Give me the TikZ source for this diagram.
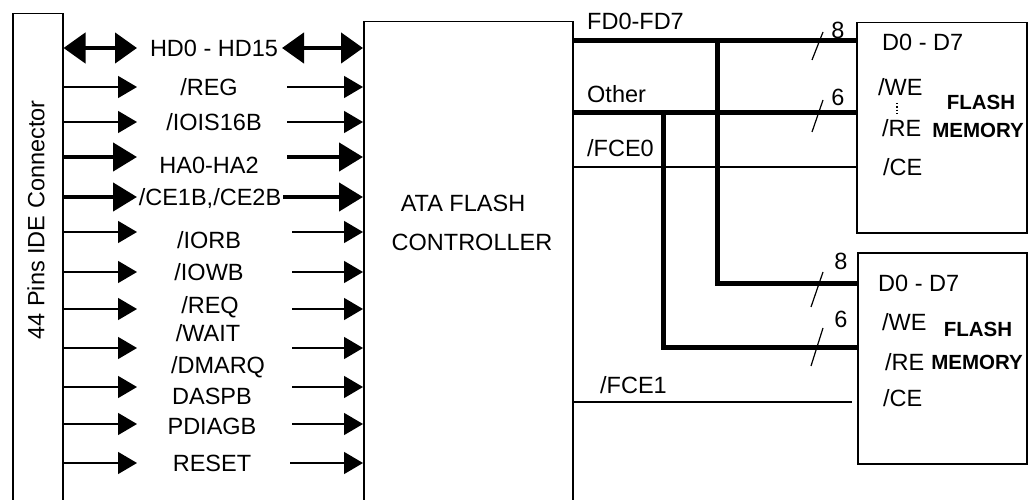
\documentclass[tikz,border=0pt]{standalone}
\usepackage{fontspec}
\setmainfont{Liberation Sans}
\usetikzlibrary{arrows.meta}

\begin{document}
\begin{tikzpicture}[x=1pt, y=-1pt,
    box/.style={draw, line width=1.5pt, inner sep=0pt, anchor=north west},
    lbl/.style={inner sep=0pt, font=\fontsize{23.5}{27}\selectfont,
        text height=16.8pt, text depth=0pt},
    boldlbl/.style={lbl, font=\fontsize{20.5}{24}\selectfont\bfseries,
        text height=14.7pt},
    sig/.style={line width=1.5pt, -{Triangle[length=19pt,width=22pt]}},
    bus/.style={line width=4.5pt, -{Triangle[length=24pt,width=28pt]}},
    dbus/.style={line width=4.5pt,
        {Triangle[length=22pt,width=30pt]}-{Triangle[length=22pt,width=30pt]}},
    wire/.style={line width=1.5pt},
    fbus/.style={line width=5pt},
    tick/.style={line width=1.2pt}
]
    \fill[white] (0,0) rectangle (1028,500);
    \useasboundingbox (0,0) rectangle (1028,500);

    % boxes
    \node[box, minimum width=50pt, minimum height=520pt] (conn) at (12,13) {};
    \node[box, minimum width=209pt, minimum height=520pt] (ctrl) at (363,21) {};
    \node[box, minimum width=170pt, minimum height=210pt] (flashA) at (856,22) {};
    \node[box, minimum width=169pt, minimum height=211pt] (flashB) at (857,252) {};

    \node[lbl, rotate=90] (connlbl) at (36,220) {44 Pins IDE Connector};
    \node[lbl] (ctrllblA) at (463,203) {ATA FLASH};
    \node[lbl] (ctrllblB) at (472,242) {CONTROLLER};

    % host side signals
    \foreach \y/\kind/\xr in {48/dbus/282, 87/sig/287, 122/sig/287, 157/bus/287,
        197/bus/283, 232/sig/292, 272/sig/292, 309/sig/292, 348/sig/292,
        387/sig/292, 424/sig/292, 463/sig/290} {
        \draw[\kind] (conn.east |- 0,\y) -- (137,\y);
        \draw[\kind] (\xr,\y) -- (ctrl.west |- 0,\y);
    }
    \node[lbl] (hdlbl) at (214,48) {HD0 - HD15};
    \node[lbl] (reglbl) at (209,87) {/REG};
    \node[lbl] (ioislbl) at (214,122) {/IOIS16B};
    \node[lbl] (halbl) at (209,165) {HA0-HA2};
    \node[lbl] (celbl) at (210,197) {/CE1B,/CE2B};
    \node[lbl] (iorlbl) at (209,240) {/IORB};
    \node[lbl] (iowlbl) at (209,272) {/IOWB};
    \node[lbl] (reqlbl) at (210,305) {/REQ};
    \node[lbl] (waitlbl) at (208,333) {/WAIT};
    \node[lbl] (dmalbl) at (218,365) {/DMARQ};
    \node[lbl] (dasplbl) at (212,396) {DASPB};
    \node[lbl] (pdiaglbl) at (212,426) {PDIAGB};
    \node[lbl] (resetlbl) at (212,463) {RESET};

    % flash side
    \coordinate (dsplit) at (717,41);
    \coordinate (osplit) at (663,113);
    \draw[fbus] (ctrl.east |- dsplit) -- (flashA.west |- dsplit);
    \draw[fbus] (dsplit) -- (717,283) -- (flashB.west |- 0,283);
    \draw[fbus] (ctrl.east |- osplit) -- (flashA.west |- osplit);
    \draw[fbus] (osplit) -- (663,347) -- (flashB.west |- 0,347);
    \draw[wire] (ctrl.east |- 0,167) -- (flashA.west |- 0,167);
    \draw[wire, shorten >=5pt] (ctrl.east |- 0,402) -- (flashB.west |- 0,402);

    \node[lbl, anchor=west] (fdlbl) at (587,21) {FD0-FD7};
    \node[lbl, anchor=west] (otherlbl) at (587,94) {Other};
    \node[lbl, anchor=west] (fceAlbl) at (587,148) {/FCE0};
    \node[lbl, anchor=west] (fceBlbl) at (600,385) {/FCE1};

    % bus widths
    \draw[tick] (812,60) -- (823,32);
    \draw[tick] (812,132) -- (823,100);
    \draw[tick] (811,307) -- (823,272);
    \draw[tick] (811,366) -- (823,328);
    \node[lbl] (wA) at (838,30) {8};
    \node[lbl] (wB) at (838,97) {6};
    \node[lbl] (wC) at (841,261) {8};
    \node[lbl] (wD) at (841,319) {6};

    % flash memory pins
    \node[lbl, anchor=west] (dA) at (882,42) {D0 - D7};
    \node[lbl, anchor=west] (weA) at (878,87) {/WE};
    \draw[line width=1.3pt, dash pattern=on 1.3pt off 2pt] (897,103) -- (897,114);
    \node[lbl, anchor=west] (reA) at (882,128) {/RE};
    \node[lbl, anchor=west] (ceA) at (883,167) {/CE};
    \node[boldlbl] (flA) at (981,102) {FLASH};
    \node[boldlbl] (memA) at (978,130) {MEMORY};

    \node[lbl, anchor=west] (dB) at (878,283) {D0 - D7};
    \node[lbl, anchor=west] (weB) at (882,322) {/WE};
    \node[lbl, anchor=west] (reB) at (885,362) {/RE};
    \node[lbl, anchor=west] (ceB) at (883,398) {/CE};
    \node[boldlbl] (flB) at (978,329) {FLASH};
    \node[boldlbl] (memB) at (977,362) {MEMORY};
\end{tikzpicture}
\end{document}
